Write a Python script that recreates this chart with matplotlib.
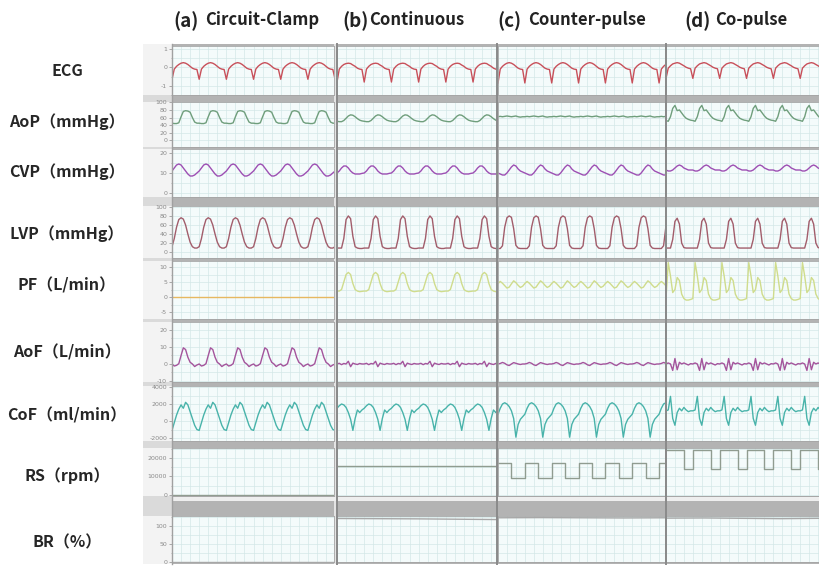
import numpy as np
import matplotlib.pyplot as plt
from matplotlib.patches import Rectangle
from matplotlib.lines import Line2D
from matplotlib.ticker import MultipleLocator, AutoMinorLocator

W, H = 819, 566
CJK = ["Noto Sans CJK SC", "DejaVu Sans"]

# ---------------------------------------------------------------------------
# Recording data: one beat per list (12 samples), one list per mode
# modes: (a) circuit clamp, (b) continuous, (c) counter-pulse, (d) co-pulse
# ---------------------------------------------------------------------------
MODES = ["(a)", "(b)", "(c)", "(d)"]
MODE_NAMES = ["Circuit-Clamp", "Continuous", "Counter-pulse", "Co-pulse"]

ROW_LABELS = ["ECG", "AoP（mmHg）", "CVP（mmHg）", "LVP（mmHg）", "PF（L/min）",
              "AoF（L/min）", "CoF（ml/min）", "RS（rpm）", "BR（%）"]

BEAT_S = 0.5          # heart period, s
N_BEATS = 7
COL_SPAN_S = [2.98, 2.94, 3.11, 2.85]

ECG_BEATS = [
    [-0.65, -0.1, 0.05, 0.15, 0.22, 0.25, 0.22, 0.15, 0.05, -0.05, -0.1, -0.12],
    [-0.8, -0.1, 0.05, 0.15, 0.2, 0.22, 0.2, 0.12, 0.05, -0.05, -0.1, -0.12],
    [-0.85, -0.1, 0.05, 0.15, 0.22, 0.25, 0.22, 0.15, 0.05, -0.05, -0.1, -0.12],
    [-0.6, -0.05, 0.08, 0.18, 0.22, 0.25, 0.22, 0.15, 0.08, 0.0, -0.05, -0.08],
]
AOP_BEATS = [
    [45, 44, 44, 46, 62, 76, 78, 77, 74, 60, 48, 45],
    [50, 49, 49, 52, 58, 64, 67, 66, 62, 57, 53, 51],
    [62, 63, 62, 63, 64, 63, 62, 63, 64, 62, 61, 62],
    [52, 50, 62, 84, 92, 78, 80, 72, 64, 58, 55, 53],
]
CVP_BEATS = [
    [11, 12.5, 14, 14.5, 14, 12.5, 11, 9.5, 8.5, 8.5, 9, 10],
    [10, 11, 12.5, 13.5, 13.5, 12.5, 11, 10, 9.5, 9.5, 9.5, 9.8],
    [10, 9.5, 9, 9, 10, 11.5, 13, 14, 13.5, 12, 11, 10.5],
    [11.5, 11, 11, 11.5, 12.5, 13.5, 14, 13.5, 12.5, 12, 11.5, 11.5],
]
LVP_BEATS = [
    [12, 30, 55, 72, 76, 73, 60, 40, 22, 12, 9, 9],
    [9, 9, 9, 30, 72, 80, 74, 35, 12, 9, 8, 8],
    [8, 8, 14, 55, 76, 80, 77, 52, 15, 9, 8, 8],
    [9, 9, 9, 28, 68, 75, 62, 20, 10, 9, 9, 9],
]
PF_BEATS = [
    [0, 0, 0, 0, 0, 0, 0, 0, 0, 0, 0, 0],
    [2, 2, 2.5, 5, 7.5, 8.2, 7.5, 4.5, 2.5, 2, 1.8, 1.9],
    [4.5, 5.2, 4.6, 3.8, 3.0, 3.3, 4.4, 5.4, 4.8, 3.9, 3.2, 3.6],
    [-0.5, 11.5, 7, 1.5, 2.5, 6.5, 5.5, 1, -0.5, -1, -1, -0.8],
]
AOF_BEATS = [
    [0, -1.2, -0.8, 0.2, 5, 9.5, 8.5, 4, 1, 0, -1.5, -0.6],
    [0, 0.4, -0.4, 0.3, 0, 1.6, -1.6, 0.5, 0, -0.3, 0.3, 0],
    [0, 0.3, 0.9, 0.4, -0.5, -0.9, 0, 0.8, 0.4, 0, -0.3, 0],
    [0, 0.6, 0, -3.8, 3.2, -3.4, 1, 0, 0.6, 0, -0.6, 0.2],
]
COF_BEATS = [
    [-1100, -200, 700, 1400, 1900, 1500, 2200, 1900, 1100, 300, -500, -1000],
    [1500, 1800, 2000, 1900, 1600, 1000, 200, -1100, 300, 1300, 1000, 1300],
    [800, 1500, 2000, 2150, 2000, 1700, 1200, 300, -1900, -400, 200, 500],
    [1200, 1300, 2900, 300, -500, 1000, 1500, 1200, 1600, 1300, 1100, 1200],
]
RS_BEATS = [
    [0] * 12,
    [15700] * 12,
    [17200] * 6 + [9200] * 6,
    [24500] * 8 + [14000] * 4,
]
# blood-pump ratio is a slow trend, not beat-locked
BR_TREND = [
    [0, 0, 0, 0, 0],
    [121, 120.5, 120, 119, 118],
    [123, 123.5, 123, 122.5, 123],
    [122, 122.5, 121.5, 120.5, 121.5],
]

Y_LIMITS = [(-1.5, 1.15), (-18, 101), (-2, 22), (-13, 102), (-7.3, 12),
            (-10.6, 24.7), (-2350, 4120), (-540, 25400), (-1, 128)]
Y_TICKS = [[-1, 0, 1], [0, 20, 40, 60, 80, 100], [0, 10, 20],
           [0, 20, 40, 60, 80, 100], [-5, 0, 5, 10], [-10, 0, 10, 20],
           [-2000, 0, 2000, 4000], [0, 10000, 20000], [0, 50, 100]]
MINOR_DIV = [2, 1, 2, 1, 2, 2, 2, 2, 2]
COLORS = ["#c8505a", "#6f9e7c", "#9d4fb3", "#a25d6b", "#cfdc8c",
          "#a4549c", "#48b3aa", "#909c90", "#a8a8a8"]
PF_CLAMP_COLOR = "#e6b860"

# pixel layout
COL_X = [(172, 334), (337, 497), (498, 665), (666, 819)]
ROW_Y = [(46, 95), (102, 147), (149, 197), (206, 258), (261, 319),
         (322, 382), (386, 441), (448, 496), (516, 562)]
LABEL_Y = [71, 122, 172, 234, 285, 352, 415, 476, 542]
TAG_X = [173, 342, 497, 684]
NAME_X = [205, 369, 528, 715]


def px_rect(x0, y0, x1, y1):
    return [x0 / W, 1 - y1 / H, (x1 - x0) / W, (y1 - y0) / H]


def fig_rect(fig, x0, y0, x1, y1, color, z=-1):
    l, b, w, h = px_rect(x0, y0, x1, y1)
    fig.patches.append(Rectangle((l, b), w, h, transform=fig.transFigure,
                                 facecolor=color, edgecolor="none", zorder=z))


def vline(fig, x, y0, y1, color, lw):
    fig.lines.append(Line2D([x / W, x / W], [1 - y0 / H, 1 - y1 / H],
                            transform=fig.transFigure, color=color, lw=lw,
                            zorder=5))


fig = plt.figure(figsize=(W / 100, H / 100), dpi=100)
fig.patch.set_facecolor("white")

# frame and separator bands behind the panels
fig_rect(fig, 172, 44, 819, 564, "#b3b3b3")
fig_rect(fig, 143, 44, 172, 564, "#f3f3f3")
for (ya0, ya1), (yb0, yb1) in zip(ROW_Y[:-1], ROW_Y[1:]):
    fig_rect(fig, 143, ya1, 172, yb0, "#dadada", z=-0.8)
fig_rect(fig, 334, 44, 337, 564, "#e4e4e4", z=-0.5)
fig_rect(fig, 172, 497, 819, 501, "#eeeeee", z=-0.5)

series = [ECG_BEATS, AOP_BEATS, CVP_BEATS, LVP_BEATS, PF_BEATS,
          AOF_BEATS, COF_BEATS, RS_BEATS, BR_TREND]

for r, data in enumerate(series):
    y0, y1 = ROW_Y[r]
    for c, (x0, x1) in enumerate(COL_X):
        ax = fig.add_axes(px_rect(x0, y0, x1, y1))
        ax.set_facecolor("#f4fbfb")
        vals = np.asarray(data[c], dtype=float)
        if data is BR_TREND:
            t = np.linspace(0, COL_SPAN_S[c], len(vals))
            y = vals
        else:
            y = np.tile(vals, N_BEATS)
            t = np.arange(len(y)) * BEAT_S / len(vals)
        color = COLORS[r]
        if data is PF_BEATS and c == 0:
            color = PF_CLAMP_COLOR
        kw = {"drawstyle": "steps-post"} if data is RS_BEATS else {}
        ax.plot(t, y, color=color, lw=1.0, **kw)

        ax.set_xlim(0, COL_SPAN_S[c])
        ax.set_ylim(*Y_LIMITS[r])
        ax.xaxis.set_major_locator(MultipleLocator(BEAT_S / 3))
        ax.set_yticks(Y_TICKS[r])
        if MINOR_DIV[r] > 1:
            ax.yaxis.set_minor_locator(AutoMinorLocator(MINOR_DIV[r]))
        ax.grid(which="both", color="#d3e7e7", lw=0.5)
        ax.set_axisbelow(True)
        ax.tick_params(axis="x", bottom=False, labelbottom=False)
        if c == 0:
            ax.tick_params(axis="y", which="major", length=2, width=0.5,
                           colors="#8a8a8a", labelsize=4.5, pad=1.5)
            ax.tick_params(axis="y", which="minor", length=1, width=0.4,
                           colors="#8a8a8a")
            ax.set_yticklabels([f"{v:g}" for v in Y_TICKS[r]])
        else:
            ax.tick_params(axis="y", which="both", left=False,
                           labelleft=False)
        for sp in ax.spines.values():
            sp.set_color("#a5a5a5")
            sp.set_linewidth(0.6)

# column separators
vline(fig, 172, 44, 564, "#a0a0a0", 1.0)
vline(fig, 337, 44, 564, "#8a8a8a", 1.4)
vline(fig, 497.5, 44, 564, "#8a8a8a", 1.4)
vline(fig, 665.5, 44, 564, "#8a8a8a", 1.4)

# row names
for label, yc in zip(ROW_LABELS, LABEL_Y):
    fig.text(67 / W, 1 - yc / H, label, ha="center", va="center",
             fontsize=11.5, fontweight="bold", family=CJK, color="#262626")

# mode headings
for tag, name, xt, xn in zip(MODES, MODE_NAMES, TAG_X, NAME_X):
    fig.text(xt / W, 1 - 21 / H, tag, ha="left", va="center",
             fontsize=13.5, fontweight="bold", family=CJK, color="#222222")
    fig.text(xn / W, 1 - 20 / H, name, ha="left", va="center",
             fontsize=12, fontweight="bold", family=CJK, color="#222222")

fig.savefig("out.png", dpi=100, facecolor="white")
